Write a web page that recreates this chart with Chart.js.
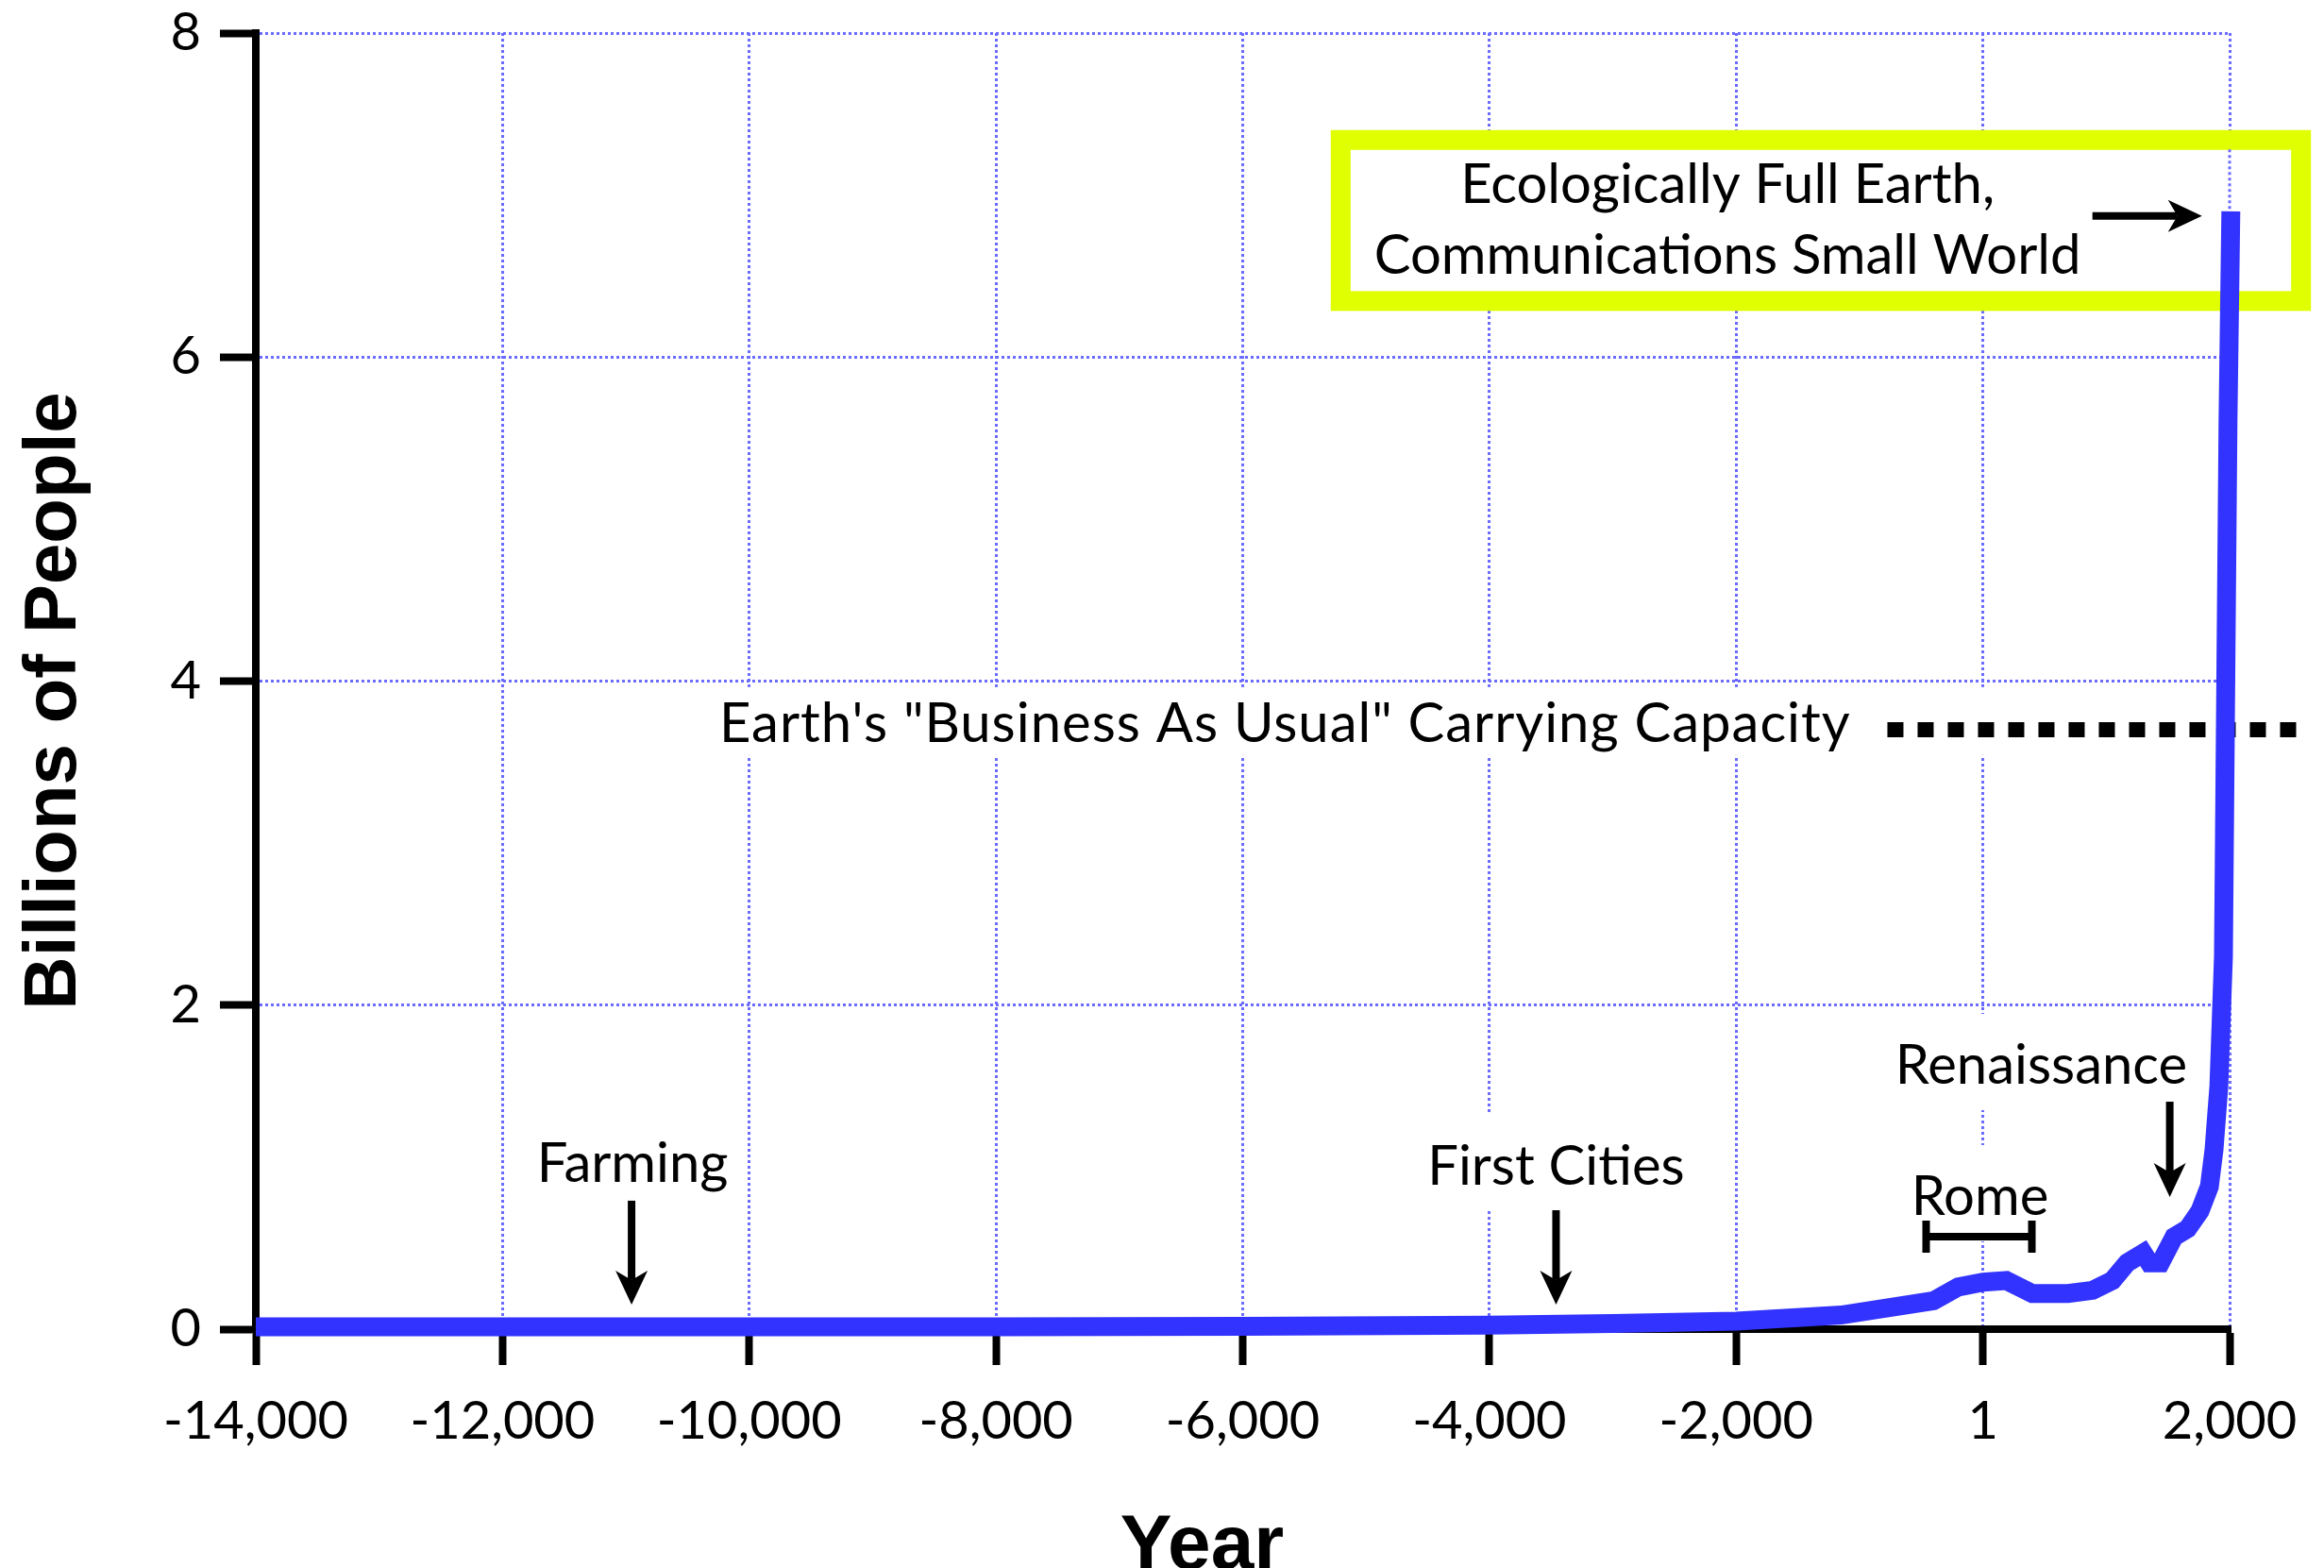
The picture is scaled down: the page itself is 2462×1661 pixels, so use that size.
<!DOCTYPE html>
<html>
<head>
<meta charset="utf-8">
<title>World population</title>
<script src="https://cdn.jsdelivr.net/npm/chart.js@4.4.1/dist/chart.umd.min.js"></script>
<style>
    body { margin: 0; background: #ffffff; }
    canvas { display: block; }
</style>
</head>
<body>
<canvas id="population_chart" width="2462" height="1661"></canvas>
<script>
// world population, billions of people
var years = [-14000, -12000, -10000, -8000, -6000, -4000, -3000, -2000, -1150, -400, -200, 1, 190,
    400, 690, 890, 1050, 1170, 1300, 1350, 1440, 1550, 1660, 1760, 1836, 1874, 1913, 1950, 1970, 1987, 2010];
var billions = [0.015, 0.015, 0.015, 0.015, 0.018, 0.025, 0.035, 0.05, 0.087, 0.175, 0.26, 0.29, 0.30,
    0.22, 0.22, 0.24, 0.30, 0.41, 0.47, 0.41, 0.41, 0.57, 0.62, 0.73, 0.88, 1.11, 1.5, 2.3, 4.1, 5.6, 6.9];

// "business as usual" carrying capacity
var capacityYears = [-774, 2556];
var capacityBillions = [3.7, 3.7];

var xTickValues = [-14000, -12000, -10000, -8000, -6000, -4000, -2000, 0, 2000];
var xTickLabels = ["-14,000", "-12,000", "-10,000", "-8,000", "-6,000", "-4,000", "-2,000", "1", "2,000"];
var yTickValues = [0, 2, 4, 6, 8];
var yTickLabels = ["0", "2", "4", "6", "8"];

// labelled events: text centre (year) and baseline (billions)
var eventLabels = [
    {text: "Farming", year: -10946, value: 0.909},
    {text: "First Cities", year: -3460, value: 0.892},
    {text: "Rome", year: -24, value: 0.705},
    {text: "Renaissance", year: 473, value: 1.515}
];
// arrows: from (year, value) to (year, value)
var eventArrows = [
    [-10954, 0.793, -10954, 0.152],
    [-3460, 0.734, -3460, 0.152],
    [1515, 1.404, 1515, 0.816],
    [888, 6.871, 1776, 6.871]
];
var romeSpan = [-460, 397, 0.571];

var capacityText = {text: "Earth's \"Business As Usual\" Carrying Capacity", year: -5657, value: 3.625};
var fullEarthText = ["Ecologically Full Earth,", "Communications Small World"];
var fullEarthPos = {year: -2070, values: [6.952, 6.515]};
var fullEarthBox = [-5206, 2579, 7.34, 6.346];

var gridBlue = "#6b6bff";
var labelFont = "58px Lato";
var tickFont = {family: "Lato", size: 56};

function drawArrow(ctx, x1, y1, x2, y2) {
    var ang = Math.atan2(y2 - y1, x2 - x1);
    var len = Math.hypot(x2 - x1, y2 - y1);
    ctx.save();
    ctx.translate(x2, y2);
    ctx.rotate(ang);
    ctx.strokeStyle = "#000";
    ctx.fillStyle = "#000";
    ctx.lineWidth = 8;
    ctx.beginPath();
    ctx.moveTo(-len, 0);
    ctx.lineTo(-26, 0);
    ctx.stroke();
    ctx.beginPath();
    ctx.moveTo(0, 0);
    ctx.lineTo(-36, -17);
    ctx.lineTo(-26, 0);
    ctx.lineTo(-36, 17);
    ctx.closePath();
    ctx.fill();
    ctx.restore();
}

function whiteBehind(ctx, x, w, baseline) {
    ctx.fillStyle = "#fff";
    ctx.fillRect(x, baseline - 74, w, 102);
}

var annotations = {
    id: "annotations",
    beforeDatasetsDraw: function (chart) {
        var ctx = chart.ctx, xs = chart.scales.x, ys = chart.scales.y;
        ctx.save();
        ctx.font = labelFont;
        // white panels behind the event labels
        eventLabels.forEach(function (l) {
            var w = ctx.measureText(l.text).width;
            whiteBehind(ctx, xs.getPixelForValue(l.year) - w / 2 - 10, w + 20, ys.getPixelForValue(l.value));
        });
        var cw = ctx.measureText(capacityText.text).width;
        var cx = xs.getPixelForValue(capacityText.year) - cw / 2;
        var cb = ys.getPixelForValue(capacityText.value);
        ctx.fillStyle = "#fff";
        ctx.fillRect(cx - 24, cb - 58, xs.getPixelForValue(capacityYears[1]) - cx + 24, 72);

        // yellow frame
        var bx1 = xs.getPixelForValue(fullEarthBox[0]), bx2 = xs.getPixelForValue(fullEarthBox[1]);
        var by1 = ys.getPixelForValue(fullEarthBox[2]), by2 = ys.getPixelForValue(fullEarthBox[3]);
        ctx.fillStyle = "#fff";
        ctx.fillRect(bx1, by1, bx2 - bx1, by2 - by1);
        ctx.strokeStyle = "#e0ff00";
        ctx.lineWidth = 21;
        ctx.strokeRect(bx1, by1, bx2 - bx1, by2 - by1);

        // the 2000 grid line stays visible inside the frame
        var gx = xs.getPixelForValue(xs.max);
        ctx.strokeStyle = gridBlue;
        ctx.lineWidth = 3;
        ctx.setLineDash([3, 3]);
        ctx.beginPath();
        ctx.moveTo(gx, by1 + 10);
        ctx.lineTo(gx, by2 - 10);
        ctx.stroke();
        ctx.restore();
    },
    afterDatasetsDraw: function (chart) {
        var ctx = chart.ctx, xs = chart.scales.x, ys = chart.scales.y;
        ctx.save();
        ctx.fillStyle = "#000";
        ctx.font = labelFont;
        ctx.textAlign = "center";
        ctx.textBaseline = "alphabetic";
        eventLabels.forEach(function (l) {
            ctx.fillText(l.text, xs.getPixelForValue(l.year), ys.getPixelForValue(l.value));
        });
        fullEarthText.forEach(function (t, i) {
            ctx.fillText(t, xs.getPixelForValue(fullEarthPos.year), ys.getPixelForValue(fullEarthPos.values[i]));
        });
        ctx.letterSpacing = "1px";
        ctx.fillText(capacityText.text, xs.getPixelForValue(capacityText.year), ys.getPixelForValue(capacityText.value));
        ctx.letterSpacing = "0px";

        eventArrows.forEach(function (a) {
            drawArrow(ctx, xs.getPixelForValue(a[0]), ys.getPixelForValue(a[1]),
                xs.getPixelForValue(a[2]), ys.getPixelForValue(a[3]));
        });

        // Rome bracket
        var rx1 = xs.getPixelForValue(romeSpan[0]), rx2 = xs.getPixelForValue(romeSpan[1]);
        var ry = ys.getPixelForValue(romeSpan[2]);
        ctx.strokeStyle = "#000";
        ctx.lineWidth = 8;
        ctx.beginPath();
        ctx.moveTo(rx1, ry);
        ctx.lineTo(rx2, ry);
        ctx.moveTo(rx1, ry - 17);
        ctx.lineTo(rx1, ry + 17);
        ctx.moveTo(rx2, ry - 17);
        ctx.lineTo(rx2, ry + 17);
        ctx.stroke();
        ctx.restore();
    },
    afterDraw: function (chart) {
        var ctx = chart.ctx, area = chart.chartArea;
        ctx.save();
        ctx.fillStyle = "#000";
        ctx.textAlign = "center";
        ctx.textBaseline = "alphabetic";
        ctx.font = "bold 82px 'Liberation Sans'";
        ctx.fillText("Year", (area.left + area.right) / 2 - 43, chart.height + 1);
        ctx.translate(80, (area.top + area.bottom) / 2 + 21);
        ctx.rotate(-Math.PI / 2);
        ctx.font = "bold 78px 'Liberation Sans'";
        ctx.fillText("Billions of People", 0, 0);
        ctx.restore();
    }
};

var ctx = document.getElementById("population_chart").getContext("2d");
var chart = new Chart(ctx, {
    type: "line",
    data: {
        datasets: [{
            label: "World population",
            data: years.map(function (y, i) { return {x: y, y: billions[i]}; }),
            borderColor: "#3333ff",
            borderWidth: 20,
            pointRadius: 0,
            tension: 0,
            clip: 14,
            order: 1
        }, {
            label: "Carrying capacity",
            data: capacityYears.map(function (y, i) { return {x: y, y: capacityBillions[i]}; }),
            borderColor: "#000",
            borderWidth: 16,
            borderDash: [17, 15],
            pointRadius: 0,
            clip: false,
            order: 2
        }]
    },
    options: {
        responsive: false,
        animation: false,
        devicePixelRatio: 1,
        layout: {padding: {top: 35, right: 100, left: 0, bottom: 0}},
        plugins: {legend: {display: false}, tooltip: {enabled: false}},
        scales: {
            x: {
                type: "linear",
                min: -14000,
                max: 2000,
                afterFit: function (s) {
                    s.height = 253;
                    s.paddingLeft = 0;
                    s.paddingRight = 0;
                },
                afterBuildTicks: function (s) { s.ticks = xTickValues.map(function (v) { return {value: v}; }); },
                ticks: {
                    callback: function (v, i) { return xTickLabels[i]; },
                    font: tickFont, color: "#000", padding: 26, maxRotation: 0, autoSkip: false
                },
                grid: {color: gridBlue, lineWidth: 3, tickLength: 38, tickWidth: 8, tickColor: "#000"},
                border: {color: "#000", width: 8, dash: [3, 3]}
            },
            y: {
                min: 0,
                max: 8,
                afterFit: function (s) {
                    s.width = 271;
                    s.paddingTop = 0;
                    s.paddingBottom = 0;
                },
                afterBuildTicks: function (s) { s.ticks = yTickValues.map(function (v) { return {value: v}; }); },
                ticks: {
                    callback: function (v, i) { return yTickLabels[i]; },
                    font: tickFont, color: "#000", padding: 20
                },
                grid: {color: gridBlue, lineWidth: 3, tickLength: 38, tickWidth: 8, tickColor: "#000"},
                border: {color: "#000", width: 8, dash: [3, 3]}
            }
        }
    },
    plugins: [annotations]
});
</script>
</body>
</html>
